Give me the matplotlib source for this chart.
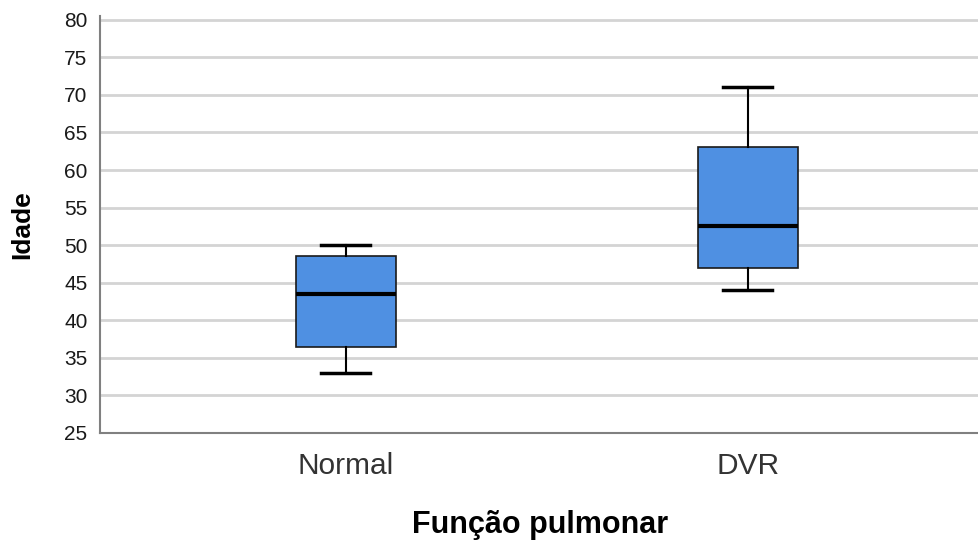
import matplotlib
matplotlib.use("Agg")
import matplotlib.pyplot as plt

categories = ["Normal", "DVR"]
whislo = [33, 44]
q1 = [36.5, 47]
med = [43.5, 52.5]
q3 = [48.5, 63]
whishi = [50, 71]
yticks = [25, 30, 35, 40, 45, 50, 55, 60, 65, 70, 75, 80]

plt.rcParams['font.family'] = ['Liberation Sans', 'DejaVu Sans']

fig = plt.figure(figsize=(9.79, 5.40), dpi=100)
ax = fig.add_axes([100/979, (540-433)/540, 1 - 100/979, (433-16)/540])

stats = []
for i, c in enumerate(categories):
    stats.append(dict(label=c, whislo=whislo[i], q1=q1[i], med=med[i],
                      q3=q3[i], whishi=whishi[i], fliers=[]))

ax.bxp(stats, positions=[0, 1], widths=0.249, patch_artist=True,
       showfliers=False,
       boxprops=dict(facecolor="#4f90e2", edgecolor="#1a1a1a", linewidth=1.2),
       medianprops=dict(color="black", linewidth=3),
       whiskerprops=dict(color="black", linewidth=1.5),
       capprops=dict(color="black", linewidth=2.5),
       capwidths=0.122, zorder=3)

ax.set_xlim(-0.612, 1.575)
ax.set_ylim(25, 80.5)
ax.set_yticks(yticks)
ax.set_yticklabels([str(t) for t in yticks])
ax.yaxis.grid(True, color="#d4d4d4", linewidth=2, zorder=0)
ax.set_axisbelow(True)
for s in ["top", "right"]:
    ax.spines[s].set_visible(False)
for s in ["left", "bottom"]:
    ax.spines[s].set_color("#808080")
    ax.spines[s].set_linewidth(1.5)
ax.tick_params(axis="y", length=0, pad=9, labelsize=15, labelcolor="#1a1a1a")
ax.tick_params(axis="x", length=0, pad=14, labelsize=21.5, labelcolor="#333333")

ax.set_ylabel("Idade", fontsize=19, fontweight="bold")
ax.yaxis.set_label_coords(-78/879, 0.5)
ax.yaxis.label.set_va("center")

fig.text(540/979, 7/540, "Função pulmonar", fontsize=22, fontweight="bold",
         ha="center", va="baseline")

fig.savefig("out.png", dpi=100)
